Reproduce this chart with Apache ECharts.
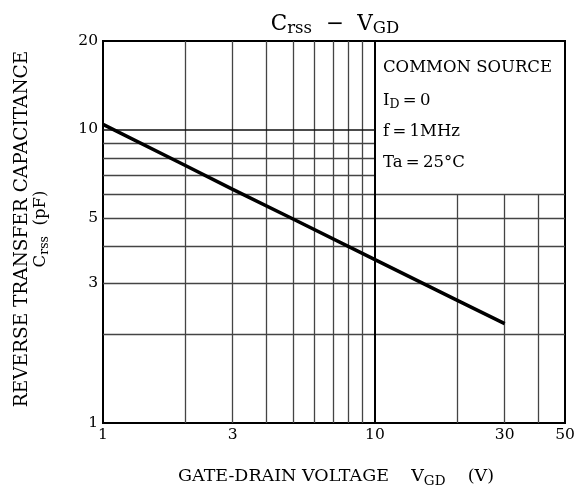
<!DOCTYPE html>
<html><head><meta charset="utf-8">
<script src="https://cdn.jsdelivr.net/npm/echarts@6/dist/echarts.min.js"></script>
<style>html,body{margin:0;padding:0;background:#fff}#c{width:582px;height:488px}</style>
</head><body><div id="c"></div>
<script>
// ---- data ----
const voltage = [1, 2, 3, 5, 10, 20, 30];
const crss = [10.4, 7.55, 6.25, 4.95, 3.6, 2.62, 2.18];
const xTickLabels = [1, 3, 10, 30, 50];
const yTickLabels = [1, 3, 5, 10, 20];
const xGridFull = [2, 3, 4, 5, 6, 7, 8, 9];
const xGridMajor = [10];
const xGridPartial = [20, 30, 40];
const yGridFull = [2, 3, 4, 5, 6];
const yGridPartial = [7, 8, 9];
const yGridMajor = [10];
const xRange = [1, 50];
const yRange = [1, 20];
const boxCorner = [10, 6];

const FF = "'DejaVu Serif', serif";
const chart = echarts.init(document.getElementById('c'), null, {renderer: 'canvas'});

const gridLines = [];
xGridFull.forEach(v => gridLines.push({xAxis: v}));
yGridFull.forEach(v => gridLines.push({yAxis: v}));
xGridPartial.forEach(v => gridLines.push([{coord: [v, yRange[0]]}, {coord: [v, boxCorner[1]]}]));
yGridPartial.forEach(v => gridLines.push([{coord: [xRange[0], v]}, {coord: [boxCorner[0], v]}]));
xGridMajor.forEach(v => gridLines.push({xAxis: v, lineStyle: {color: '#000', width: 2}}));
yGridMajor.forEach(v => gridLines.push([{coord: [xRange[0], v], lineStyle: {color: '#111', width: 1.5}}, {coord: [boxCorner[0], v]}]));

const fmt = v => String(Math.round(v * 1000) / 1000);

chart.setOption({
  animation: false,
  backgroundColor: '#fff',
  grid: {left: 103, top: 41, width: 462, height: 382, show: true, borderColor: '#000', borderWidth: 2, backgroundColor: 'transparent'},
  xAxis: {
    type: 'log', logBase: 10, min: xRange[0], max: xRange[1],
    axisLine: {show: true, lineStyle: {color: '#000', width: 2}},
    axisTick: {show: false},
    splitLine: {show: false},
    axisLabel: {customValues: xTickLabels, color: '#000', fontFamily: FF, fontSize: 15.5, margin: 4, formatter: fmt}
  },
  yAxis: {
    type: 'log', logBase: 10, min: yRange[0], max: yRange[1],
    axisLine: {show: true, lineStyle: {color: '#000', width: 2}},
    axisTick: {show: false},
    splitLine: {show: false},
    axisLabel: {customValues: yTickLabels, color: '#000', fontFamily: FF, fontSize: 15.5, margin: 5, formatter: fmt}
  },
  series: [
    {
      type: 'line', data: [], silent: true, z: 1,
      markLine: {
        silent: true, animation: false, symbol: ['none', 'none'],
        label: {show: false},
        lineStyle: {color: '#444', width: 1.3, type: 'solid'},
        emphasis: {disabled: true},
        data: gridLines
      }
    },
    {
      type: 'line', z: 5, symbol: 'none', silent: true,
      data: voltage.map((v, i) => [v, crss[i]]),
      lineStyle: {color: '#000', width: 3.5}
    }
  ],
  graphic: [
    {type: 'text', x: 335, y: 24, style: {
      text: '{m|C}{s|rss}{m|  −  V}{s|GD}', align: 'center', verticalAlign: 'middle', fill: '#000',
      rich: {m: {fontSize: 21.5, fontFamily: FF}, s: {fontSize: 16.5, fontFamily: FF, padding: [10, 0, 0, 0]}}
    }},
    {type: 'text', x: 22, y: 229, rotation: Math.PI / 2, style: {
      text: 'REVERSE TRANSFER CAPACITANCE', align: 'center', verticalAlign: 'middle', fill: '#000',
      fontSize: 18.5, fontFamily: FF
    }},
    {type: 'text', x: 41, y: 229, rotation: Math.PI / 2, style: {
      text: '{m|C}{s|rss}{m|  (pF)}', align: 'center', verticalAlign: 'middle', fill: '#000',
      rich: {m: {fontSize: 16.5, fontFamily: FF}, s: {fontSize: 12.5, fontFamily: FF, padding: [8, 0, 0, 0]}}
    }},
    {type: 'text', x: 336, y: 476, style: {
      text: '{m|GATE-DRAIN VOLTAGE    V}{s|GD}{m|    (V)}', align: 'center', verticalAlign: 'middle', fill: '#000',
      rich: {m: {fontSize: 17.5, fontFamily: FF}, s: {fontSize: 13.5, fontFamily: FF, padding: [10, 0, 0, 0]}}
    }},
    {type: 'text', x: 383, y: 67.5, style: {
      text: 'COMMON SOURCE', align: 'left', verticalAlign: 'middle', fill: '#000', fontSize: 16.5, fontFamily: FF
    }},
    {type: 'text', x: 383, y: 101, style: {
      text: '{m|I}{s|D}{m|\u2009=\u20090}', align: 'left', verticalAlign: 'middle', fill: '#000',
      rich: {m: {fontSize: 16.5, fontFamily: FF}, s: {fontSize: 12.5, fontFamily: FF, padding: [8, 0, 0, 0]}}
    }},
    {type: 'text', x: 383, y: 132, style: {
      text: 'f\u2009=\u20091MHz', align: 'left', verticalAlign: 'middle', fill: '#000', fontSize: 16.5, fontFamily: FF
    }},
    {type: 'text', x: 383, y: 163, style: {
      text: 'Ta\u2009=\u200925°C', align: 'left', verticalAlign: 'middle', fill: '#000', fontSize: 16.5, fontFamily: FF
    }}
  ]
});
</script>
</body></html>
